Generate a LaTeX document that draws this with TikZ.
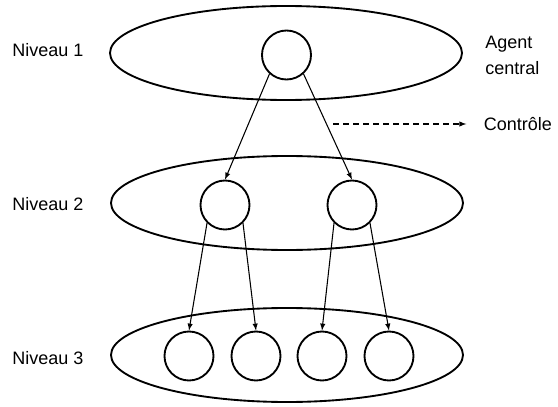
\documentclass[tikz,border=0pt]{standalone}
\usepackage{fontspec}
\setmainfont{Liberation Sans}
\usetikzlibrary{shapes.geometric}

\tikzset{
    level/.style={draw, ellipse, line width=1.4pt, minimum width=264pt, minimum height=70.5pt},
    agent/.style={draw, circle, line width=1.4pt, minimum size=36.75pt, inner sep=0pt},
    link/.style={line width=0.8pt, -latex},
    lbl/.style={inner sep=0pt, font=\fontsize{13.5}{19.5}\selectfont}
}

\begin{document}
\begin{tikzpicture}[x=0.75pt, y=-0.75pt]
    \useasboundingbox (0,0) rectangle (558,407);

    % Level ellipses
    \node[level] (lvl1) at (286,53) {};
    \node[level] (lvl2) at (287,203) {};
    \node[level] (lvl3) at (287,355) {};

    % Level labels
    \node[lbl, anchor=west] (n1) at (12,50.5) {Niveau 1};
    \node[lbl, anchor=west] (n2) at (12,204.5) {Niveau 2};
    \node[lbl, anchor=west] (n3) at (12,358) {Niveau 3};

    % Agents
    \node[agent] (a0) at (286.5,55) {};
    \node[agent] (b1) at (225,205) {};
    \node[agent] (b2) at (352,205) {};
    \foreach \X [count=\i] in {189,256,322,389} {
        \node[agent] (c\i) at (\X,356) {};
    }

    % Control links
    \draw[link] (a0.228) -- (b1.north);
    \draw[link] (a0.312) -- (b2.north);
    \draw[link] (b1.225) -- (c1.north);
    \draw[link] (b1.315) -- (c2.north);
    \draw[link] (b2.225) -- (c3.north);
    \draw[link] (b2.315) -- (c4.north);

    % Legend
    \node[lbl, anchor=north west, align=left] (central) at (485,36) {Agent\\central};
    \node[lbl, anchor=west, inner sep=2pt] (ctrl) at (481,124) {Contrôle};
    \coordinate (ctrlstart) at (333,124);
    \draw[line width=0.8pt, dash pattern=on 4.5pt off 3pt, -latex, shorten >=11pt] (ctrlstart) -- (ctrl.west);
\end{tikzpicture}
\end{document}
